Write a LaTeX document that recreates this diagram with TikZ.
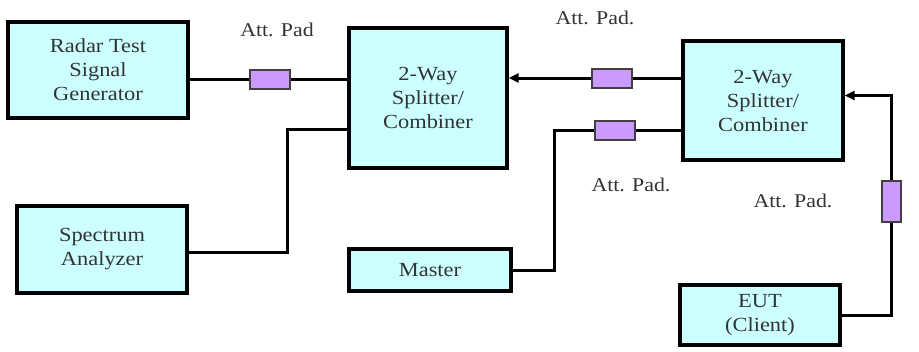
\documentclass[tikz,border=0pt]{standalone}
\usepackage{fontspec}
\setmainfont[FakeStretch=1.12]{Liberation Serif}
\usetikzlibrary{arrows.meta,positioning}
\definecolor{boxcyan}{HTML}{CCFFFF}
\definecolor{padviolet}{HTML}{CC99FF}
\begin{document}
\begin{tikzpicture}[x=1pt,y=-1pt,>={Triangle[length=10pt,width=9pt]},
  unit/.style={draw=black,line width=3.4pt,fill=boxcyan,align=center,text=black!80,inner sep=0pt,font=\fontsize{20}{24}\selectfont},
  pad/.style={draw=black!75,line width=2pt,fill=padviolet,inner sep=0pt,minimum width=40pt,minimum height=19pt},
  vpad/.style={pad,minimum width=19pt,minimum height=41pt},
  wire/.style={line width=3pt,black,line join=miter},
  lbl/.style={text=black!80,font=\fontsize{19.5}{22}\selectfont}]
\useasboundingbox (0,0) rectangle (919,351);
% units
\node[unit,minimum width=180pt,minimum height=96pt] (radar) at (98,70) {Radar Test\\Signal\\Generator};
\node[unit,minimum width=170pt,minimum height=87pt] (spec) at (102,249.5) {Spectrum\\Analyzer};
\node[unit,minimum width=158pt,minimum height=140pt] (splitL) at (428,98) {2-Way\\Splitter/\\Combiner};
\node[unit,minimum width=162pt,minimum height=42pt] (master) at (430,270) {Master};
\node[unit,minimum width=160pt,minimum height=119pt] (splitR) at (763,100.5) {2-Way\\Splitter/\\Combiner};
\node[unit,minimum width=160pt,minimum height=60pt] (eut) at (760,315) {EUT\\(Client)};
% attenuators
\node[pad] (pad1) at (270,79) {};
\node[pad] (pad2) at (612,78) {};
\node[pad] (pad3) at (615,130) {};
\node[vpad] (pad4) at (891,201.5) {};
\coordinate (bendA) at (287,129);
\coordinate (bendB) at (554,130);
% labels
\node[lbl] (lblA) at (277,30) {Att. Pad};
\node[lbl] (lblB) at (595,18) {Att. Pad.};
\node[lbl] (lblC) at (631,185) {Att. Pad.};
\node[lbl] (lblD) at (793,201) {Att. Pad.};
% wiring
\draw[wire] (pad1.west) -- (pad1 -| radar.east);
\draw[wire] (pad1.east) -- (pad1 -| splitL.west);
\draw[wire] (spec.east |- 0,252) -| (bendA) -- (bendA -| splitL.west);
\draw[wire] (pad2.east) -- (pad2 -| splitR.west);
\draw[wire,->] (pad2.west) -- (pad2 -| splitL.east);
\draw[wire] (master.east) -| (bendB) -- (pad3.west);
\draw[wire] (pad3.east) -- (pad3 -| splitR.west);
\draw[wire] (eut.east) -| (pad4.south);
\draw[wire,->] (pad4.north) |- ([yshift=5pt]splitR.east);
\end{tikzpicture}
\end{document}
